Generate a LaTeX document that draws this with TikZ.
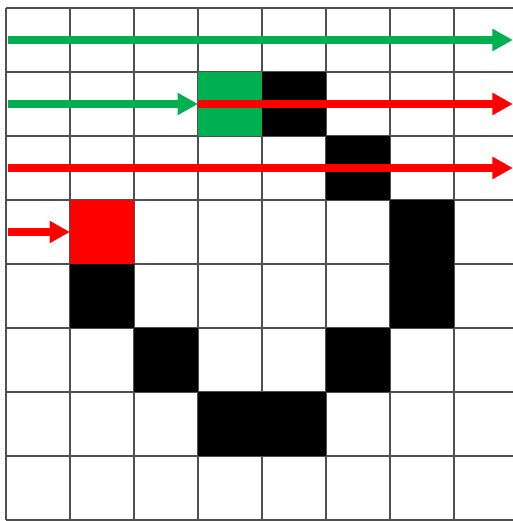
\documentclass[tikz,border=0pt]{standalone}
\usetikzlibrary{arrows.meta}
\definecolor{okgreen}{HTML}{00B050}
\definecolor{hitred}{HTML}{FF0000}
\definecolor{gridgray}{HTML}{505050}

\begin{document}
\begin{tikzpicture}[
  >={Triangle[length=3.2mm, width=3.3mm]},
  tile/.style={fill=#1, minimum size=1cm, inner sep=0pt, outer sep=0pt},
  gridline/.style={draw=gridgray, line width=0.6pt},
  ray/.style={->, line width=3.5pt, draw=#1, fill=#1},
]

% Frame
\useasboundingbox (-0.094,-0.016) rectangle (7.922,8.125);
\clip (-0.094,-0.016) rectangle (7.922,8.125);

% =============================================
% Grid
% =============================================
\foreach \i in {0,...,8} {
  \draw[gridline] (\i,0) -- (\i,8);
  \draw[gridline] (0,\i) -- (8,\i);
}

% =============================================
% Filled cells
% =============================================
\foreach \c/\r in {4/1,5/2,6/3,1/4,6/4,2/5,5/5,3/6,4/6}
  \node[tile=black] (wall-\c-\r) at (\c+0.5,7.5-\r) {};
\node[tile=okgreen] (goal) at (3.5,6.5) {};
\node[tile=hitred] (hit) at (1.5,4.5) {};

% =============================================
% Rays
% =============================================
\foreach \r in {0,...,3} {
  \coordinate (in-\r) at (0.03,7.5-\r);
  \coordinate (out-\r) at (7.92,7.5-\r);
}

\draw[ray=okgreen] (in-0) -- (out-0);
\draw[ray=okgreen] (in-1) -- (goal.west);
\draw[ray=hitred] (goal.west) -- (out-1);
\draw[ray=hitred] (in-2) -- (out-2);
\draw[ray=hitred] (in-3) -- (hit.west);

\end{tikzpicture}
\end{document}
